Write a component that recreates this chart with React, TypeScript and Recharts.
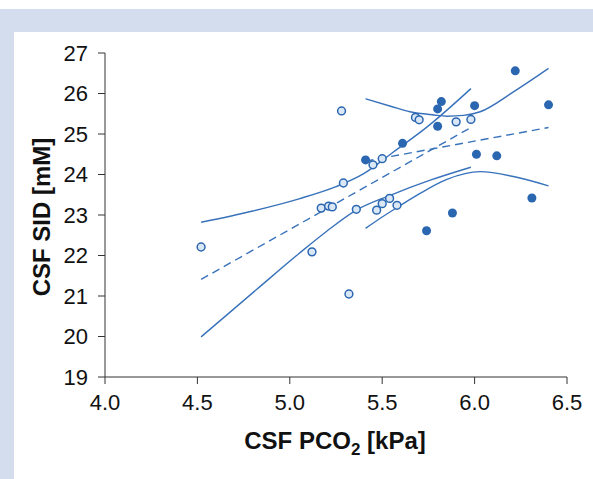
import React from 'react';
import { ComposedChart, Scatter, Line, XAxis, YAxis, Label } from 'recharts';

const BLUE = '#2b67b1';
const LINE_BLUE = '#3872bb';
const OPEN_FILL = '#d9e7f6';
const FONT = '"Liberation Sans", Arial, Helvetica, sans-serif';

// axis ticks
const xTicks = [4.0, 4.5, 5.0, 5.5, 6.0, 6.5];
const yTicks = [19, 20, 21, 22, 23, 24, 25, 26, 27];

// filled circles
const filledX = [5.41, 5.61, 5.80, 5.82, 5.80, 5.74, 5.88, 6.00, 6.01, 6.12, 6.22, 6.40, 6.31];
const filledY = [24.36, 24.77, 25.62, 25.80, 25.19, 22.61, 23.05, 25.70, 24.50, 24.46, 26.56, 25.72, 23.42];

// open circles
const openX = [4.52, 5.12, 5.17, 5.21, 5.23, 5.28, 5.29, 5.32, 5.36, 5.45, 5.47, 5.50, 5.50, 5.54, 5.58, 5.68, 5.70, 5.90, 5.98];
const openY = [22.21, 22.09, 23.17, 23.22, 23.20, 25.57, 23.79, 21.05, 23.14, 24.24, 23.12, 24.39, 23.28, 23.41, 23.24, 25.41, 25.35, 25.30, 25.36];

// regression lines (dashed)
const openFitX = [4.52, 5.98];
const openFitY = [21.41, 25.16];
const filledFitX = [5.41, 6.40];
const filledFitY = [24.33, 25.16];

// confidence bands
const openUpX = [4.52, 4.80, 5.05, 5.25, 5.40, 5.55, 5.75, 5.98];
const openUpY = [22.82, 23.10, 23.40, 23.70, 24.02, 24.52, 25.20, 26.12];
const openLoX = [4.52, 4.82, 5.05, 5.20, 5.36, 5.54, 5.76, 5.98];
const openLoY = [19.99, 21.16, 22.05, 22.60, 23.12, 23.48, 23.86, 24.18];
const filledUpX = [5.41, 5.55, 5.65, 5.78, 5.85, 5.94, 6.03, 6.21, 6.40];
const filledUpY = [25.87, 25.68, 25.55, 25.47, 25.44, 25.46, 25.55, 26.04, 26.62];
const filledLoX = [5.41, 5.50, 5.60, 5.70, 5.85, 6.03, 6.21, 6.40];
const filledLoY = [22.67, 22.95, 23.24, 23.52, 23.88, 24.07, 23.95, 23.72];

const pts = (xs: number[], ys: number[]) => xs.map((x, i) => ({ x, y: ys[i] }));

const OpenDot = (props: any) => (
  <circle cx={props.cx} cy={props.cy} r={3.9} fill={OPEN_FILL} stroke={BLUE} strokeWidth={1.5} />
);
const FilledDot = (props: any) => (
  <circle cx={props.cx} cy={props.cy} r={4.5} fill={BLUE} />
);

const curves = [
  { key: 'openUp', data: pts(openUpX, openUpY), dash: undefined },
  { key: 'openLo', data: pts(openLoX, openLoY), dash: undefined },
  { key: 'filledUp', data: pts(filledUpX, filledUpY), dash: undefined },
  { key: 'filledLo', data: pts(filledLoX, filledLoY), dash: undefined },
  { key: 'openFit', data: pts(openFitX, openFitY), dash: '8 5' },
  { key: 'filledFit', data: pts(filledFitX, filledFitY), dash: '8 5' },
];

export default function App() {
  return (
    <div style={{ position: 'fixed', left: 0, top: 0, width: 593, height: 479, background: '#fff', overflow: 'hidden' }}>
      <div style={{ position: 'absolute', left: 0, top: 9, width: 593, height: 23, background: '#d4ddee' }} />
      <div style={{ position: 'absolute', left: 0, top: 9, width: 14, height: 470, background: '#d4ddee' }} />
      <div style={{ position: 'absolute', left: 0, top: 0 }}>
        <ComposedChart width={593} height={479} margin={{ top: 53, right: 26, bottom: 0, left: 0 }}>
          <XAxis
            type="number"
            dataKey="x"
            domain={[4, 6.5]}
            ticks={xTicks}
            tickFormatter={(v: number) => v.toFixed(1)}
            height={102}
            tickSize={7}
            tickMargin={10}
            axisLine={{ stroke: '#333' }}
            tickLine={{ stroke: '#333' }}
            tick={{ fill: '#111', fontSize: 22, fontFamily: FONT }}
            allowDataOverflow
          >
            <Label
              content={() => (
                <text x={335} y={449} textAnchor="middle" fontFamily={FONT} fontSize={24} fontWeight="bold" fill="#111">
                  CSF PCO<tspan fontSize={17} dy={6}>2</tspan><tspan dy={-6}> [kPa]</tspan>
                </text>
              )}
            />
          </XAxis>
          <YAxis
            type="number"
            dataKey="y"
            domain={[19, 27]}
            ticks={yTicks}
            width={105}
            tickSize={7}
            tickMargin={10}
            axisLine={{ stroke: '#333' }}
            tickLine={{ stroke: '#333' }}
            tick={{ fill: '#111', fontSize: 22, fontFamily: FONT }}
            allowDataOverflow
          >
            <Label
              content={() => (
                <text x={50} y={217} transform="rotate(-90 50 217)" textAnchor="middle" fontFamily={FONT} fontSize={24} fontWeight="bold" fill="#111">
                  CSF SID [mM]
                </text>
              )}
            />
          </YAxis>
          {curves.map((c) => (
            <Line
              key={c.key}
              data={c.data}
              dataKey="y"
              type="monotone"
              stroke={LINE_BLUE}
              strokeWidth={1.4}
              strokeDasharray={c.dash}
              dot={false}
              activeDot={false}
              isAnimationActive={false}
            />
          ))}
          <Scatter data={pts(openX, openY)} dataKey="y" shape={OpenDot} isAnimationActive={false} />
          <Scatter data={pts(filledX, filledY)} dataKey="y" shape={FilledDot} isAnimationActive={false} />
        </ComposedChart>
      </div>
    </div>
  );
}
